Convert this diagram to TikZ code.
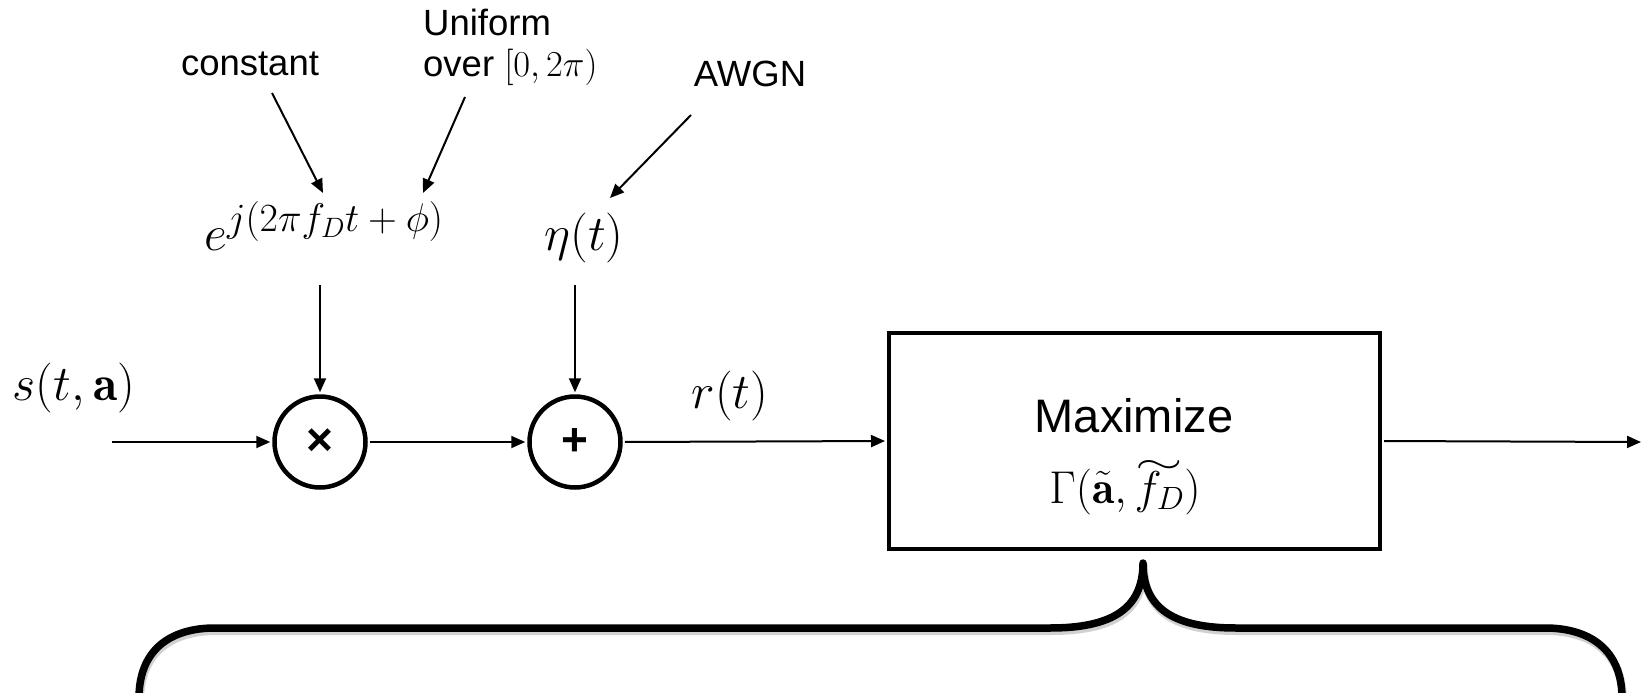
\documentclass[tikz,border=0pt]{standalone}
\usepackage{fix-cm}
\usepackage{fontspec}
\newfontfamily\arialfont{Liberation Sans}
\usetikzlibrary{arrows.meta}
\newcommand\fsz[1]{\fontsize{#1}{#1}\selectfont}
\newcommand\widewave[1]{\mathrel{\mathop{#1}\limits^{\vbox to 0pt{\vss\hbox{\scalebox{1.9}[1.1]{$\scriptstyle\sim$}}\kern-4pt}}}}
\begin{document}
\begin{tikzpicture}[x=1pt,y=-1pt,
  sig/.style={line width=2pt,-{Triangle[length=14pt,width=12pt]}},
  lbl/.style={font=\arialfont\fsz{36.5},inner sep=0pt},
  mth/.style={inner sep=0pt},
  mix/.style={circle,draw,line width=4.5pt,minimum size=91pt,inner sep=0pt,
              font=\arialfont\bfseries\fsz{46}},
  blk/.style={draw,line width=4pt,minimum width=491pt,minimum height=216pt,
              inner sep=0pt},
  brace/.style={line width=7.5pt,line cap=round,line join=round}]
\useasboundingbox[fill=white] (0,0) rectangle (1641,693);

% source labels
\node[lbl,anchor=base] (const) at (250,75) {constant};
\node[lbl,anchor=base west] (unif) at (423,36) {Uniform};
\node[lbl,anchor=base west] (over) at (423,77) {over $[0,2\pi)$};
\node[lbl,anchor=base] (awgn) at (750,87) {AWGN};

% phase term and noise
\node[mth,anchor=base] (expo) at (324,250)
  {\fsz{50}$e^{\mbox{\fsz{40}$j(2\pi f_D t+\phi)$}}$};
\node[mth,anchor=base] (eta) at (584,250) {\fsz{50}$\eta(t)$};

% mixer, adder and the search block
\node[mix] (mul) at (320,442) {\raisebox{-3pt}{×}};
\node[mix] (add) at (575,442) {\raisebox{-3pt}{+}};
\node[blk] (blk) at (1134.5,441) {};
\node[lbl,font=\arialfont\fsz{47},anchor=base] (maxt) at (1134,432) {Maximize};
\node[mth,anchor=base] (gam) at (1125,503)
  {\fsz{46}$\Gamma(\tilde{\mathbf{a}},\mathord{\widewave{f_D}})$};

% signal names
\node[mth,anchor=base] (sin) at (74,400) {\fsz{50}$s(t,\mathbf{a})$};
\node[mth,anchor=base] (rt) at (730,408) {\fsz{50}$r(t)$};

% label arrows
\coordinate (c0) at (272,93);  \coordinate (c1) at (323,193);
\coordinate (u0) at (465,97);  \coordinate (u1) at (423,193);
\coordinate (n0) at (691,115); \coordinate (n1) at (610,198);
\draw[sig] (c0) -- (c1);
\draw[sig] (u0) -- (u1);
\draw[sig] (n0) -- (n1);

% feeds into mixer and adder
\coordinate (e0) at (320,285);
\coordinate (h0) at (575,285);
\draw[sig,shorten >=2pt] (e0) -- (mul.north);
\draw[sig,shorten >=2pt] (h0) -- (add.north);

% main signal path
\coordinate (in) at (112,442);
\coordinate (out) at (1641,442);
\draw[sig,shorten >=2pt] (in) -- (mul.west);
\draw[sig,shorten <=2pt,shorten >=2pt] (mul.east) -- (add.west);
\draw[sig,shorten <=2pt,shorten >=2pt] (add.east) -- (blk.west);
\draw[sig,shorten <=2pt] (blk.east) -- (out);

% curly brace under the block
\def\bracepath{(139,698) .. controls (139,650) and (170,628) .. (215,628)
  -- (1050,628) .. controls (1110,628) and (1143,610) .. (1143,563)
  .. controls (1143,610) and (1176,628) .. (1236,628)
  -- (1545,628) .. controls (1590,628) and (1622,650) .. (1622,698)}
\draw[brace,black!18,line width=8pt,shift={(1,3)}] \bracepath;
\draw[brace] \bracepath;
\end{tikzpicture}
\end{document}
